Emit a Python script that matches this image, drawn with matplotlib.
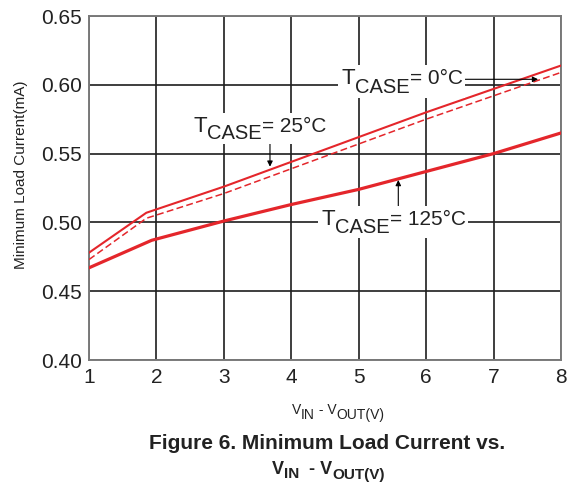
import matplotlib.pyplot as plt
from matplotlib.transforms import IdentityTransform
from matplotlib.patches import Rectangle

# data -----------------------------------
x_125 = [1, 1.93, 3, 4, 5, 6, 7, 8]
i_125 = [0.467, 0.487, 0.501, 0.513, 0.524, 0.537, 0.550, 0.565]

x_25 = [1, 1.85, 3, 4, 5, 6, 7, 8]
i_25 = [0.478, 0.507, 0.526, 0.544, 0.562, 0.580, 0.597, 0.614]

x_0 = [1, 1.85, 3, 4, 5, 6, 7, 8]
i_0 = [0.473, 0.503, 0.521, 0.539, 0.557, 0.575, 0.592, 0.609]

xticks = [1, 2, 3, 4, 5, 6, 7, 8]
yticks = [0.40, 0.45, 0.50, 0.55, 0.60, 0.65]

plt.rcParams['font.family'] = ['Liberation Sans', 'DejaVu Sans']

W, H = 580, 488
red = '#e4262b'
grid = '#1e1e1e'
txt = '#222222'

fig = plt.figure(figsize=(W / 100, H / 100), dpi=100)
ax = fig.add_axes([89 / W, 1 - 360 / H, 472 / W, 344 / H])
renderer = fig.canvas.get_renderer()

ax.plot(x_25, i_25, color=red, lw=1.5, zorder=3)
ax.plot(x_0, i_0, color=red, lw=1.1, ls=(0, (4.5, 2.2)), zorder=3)
ax.plot(x_125, i_125, color=red, lw=2.3, zorder=3)

ax.set_xlim(1, 8)
ax.set_ylim(0.40, 0.65)
ax.set_xticks(xticks)
ax.set_yticks(yticks)
ax.set_yticklabels(['%.2f' % v for v in yticks])
ax.tick_params(length=0, labelsize=15, colors=txt)
ax.tick_params(axis='y', pad=5)
ax.tick_params(axis='x', pad=6)
ax.grid(True, color=grid, lw=1.2)
for s in ax.spines.values():
    s.set_color('#7a7a7a')
    s.set_linewidth(1.4)


# text made of pieces (pixel coords, y from top, baseline) ---------
def rich(x, y, parts, weight='normal', box=False):
    cur = x
    boxes = []
    for s, size, dy in parts:
        t = fig.text(cur, H - (y + dy), s, fontsize=size, fontweight=weight,
                     color=txt, transform=IdentityTransform(),
                     ha='left', va='baseline', zorder=5)
        bb = t.get_window_extent(renderer)
        boxes.append(bb)
        cur = bb.x1
    if box:
        x0 = min(b.x0 for b in boxes) - 4
        x1 = max(b.x1 for b in boxes) + 2
        y0 = min(b.y0 for b in boxes) - 1
        y1 = max(b.y1 for b in boxes) + 3
        fig.add_artist(Rectangle((x0, y0), x1 - x0, y1 - y0, facecolor='white',
                                 edgecolor='none', transform=IdentityTransform(),
                                 zorder=4))


rich(341.7, 84.3, [('T', 16, 0), ('CASE', 14.5, 8.4), ('= 0°C', 15, 0)], box=True)
rich(193.3, 131.7, [('T', 16, 0), ('CASE', 14.5, 7.6), ('= 25°C', 15, 0)], box=True)
rich(321.7, 225.0, [('T', 16, 0), ('CASE', 14.5, 8.0), ('= 125°C', 15, 0)], box=True)

arrow = dict(arrowstyle='-|>', color='black', lw=0.8, mutation_scale=8, shrinkA=0, shrinkB=0)
ax.annotate('', xy=(7.66, 0.604), xytext=(6.58, 0.604), arrowprops=arrow, zorder=6)
ax.annotate('', xy=(3.684, 0.5405), xytext=(3.684, 0.5613), arrowprops=arrow, zorder=6)
ax.annotate('', xy=(5.587, 0.5308), xytext=(5.587, 0.5076), arrowprops=arrow, zorder=6)

# axis labels ---------------------------
fig.text(21 / W, 1 - 175 / H, 'Minimum Load Current(mA)', rotation=90,
         ha='center', va='center', fontsize=11, color=txt)
rich(292, 414, [('V', 10, 0), ('IN', 10, 5), (' - V', 10, 0), ('OUT(V)', 10, 5)])

# caption -------------------------------
fig.text(327 / W, 1 - 449 / H, 'Figure 6. Minimum Load Current vs.', ha='center',
         va='baseline', fontsize=15, fontweight='bold', color=txt)
rich(272, 474, [('V', 13, 0), ('IN', 11, 4.5), ('  - V', 13, 0), ('OUT(V)', 11, 4.5)],
     weight='bold')

plt.savefig('out.png', dpi=100)
